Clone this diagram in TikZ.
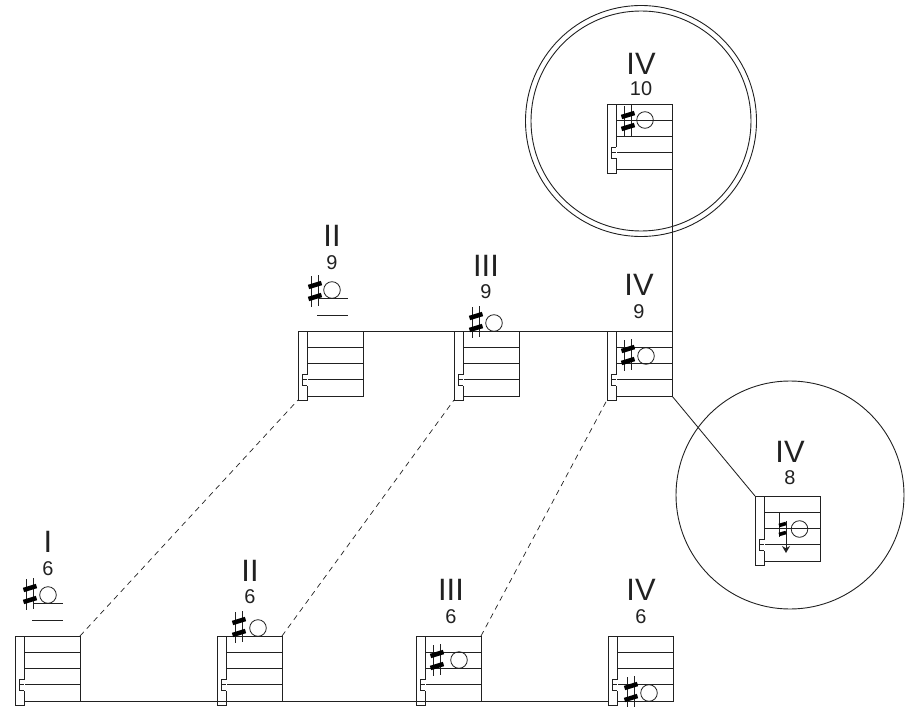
\documentclass[tikz,border=0pt]{standalone}
\usepackage{fontspec}
\setmainfont{Liberation Sans}
\usetikzlibrary{arrows.meta}
\definecolor{ink}{gray}{0.13}
\tikzset{
  x=1bp,y=-1bp,
  line/.style={draw=ink,line width=0.85bp},
  link/.style={draw=ink,line width=0.85bp},
  dash link/.style={draw=ink,line width=0.7bp,dash pattern=on 5.5bp off 4.5bp},
  staffbox/.style={rectangle,draw=ink,line width=0.85bp,inner sep=0,outer sep=0,minimum width=56bp,minimum height=65bp,anchor=north west},
  barbox/.style={rectangle,draw=ink,line width=0.85bp,inner sep=0,outer sep=0,minimum width=9bp,minimum height=69bp,anchor=north west},
  roman/.style={font=\fontsize{31}{31}\selectfont,inner sep=0,text=ink},
  numeral/.style={font=\fontsize{20}{20}\selectfont,inner sep=0,text=ink},
  ring/.style={draw=ink,line width=0.9bp},
  note/.style={draw=ink,line width=0.8bp},
}
% name, x of left edge, y of top
\newcommand{\staffat}[3]{%
  \node[barbox] (#1b) at (#2,#3) {};
  \node[staffbox] (#1) at (#2+9,#3) {};
  \foreach \k in {1,2,3}{\draw[line] (#2+9,#3+16.25*\k) -- (#2+65,#3+16.25*\k);}
  % notch in the bar
  \fill[white] (#2+4.2,#3+43.5) rectangle (#2+9.5,#3+54.5);
  \draw[line] (#2+9,#3+43.5) -- (#2+4.2,#3+43.5) -- (#2+4.2,#3+54.5) -- (#2+9,#3+54.5);
  \draw[line] (#2+4.2,#3+48.75) -- (#2+9,#3+48.75);
}
\newcommand{\sharpat}[2]{%
  \draw[draw=ink,line width=0.9bp] (#1-3.6,#2-15) -- (#1-3.6,#2+16);
  \draw[draw=ink,line width=0.9bp] (#1+3.6,#2-16) -- (#1+3.6,#2+15);
  \draw[draw=black,line width=4.5bp] (#1-6.5,#2-4) -- (#1+6.5,#2-8);
  \draw[draw=black,line width=4.5bp] (#1-6.5,#2+8) -- (#1+6.5,#2+4);
}
\newcommand{\noteat}[2]{\draw[note] (#1,#2) circle (8.3bp);}
\begin{document}
\begin{tikzpicture}
\useasboundingbox (0,0) rectangle (914,707);
% circles
\draw[ring] (641,121) circle (115.5bp);
\draw[ring] (641,121) circle (110bp);
\draw[ring] (790,495) circle (114bp);
% staves
\staffat{sa}{15}{636}
\staffat{sb}{217}{636}
\staffat{sc}{416}{636}
\staffat{sd}{608}{636}
\staffat{se}{298}{331}
\staffat{sf}{454}{331}
\staffat{sg}{607}{331}
\staffat{sh}{607}{104}
\staffat{si}{755}{496}
% connectors
\draw[link] (sa.south east) -- (sdb.south west |- sa.south east);
\draw[link] (se.north east) -- (sgb.north west);
\draw[link] (sh.north east) -- (sg.south east);
\draw[link] (sg.south east) -- (sib.north west);
\draw[dash link] (sa.north east) -- (seb.south west);
\draw[dash link] (sb.north east) -- (sfb.south west);
\draw[dash link] (sc.north east) -- (sgb.south west);
% labels
\node[roman] (la) at (48,542) {I};
\node[numeral] (na) at (48,569) {6};
\node[roman] (lb) at (250,571) {II};
\node[numeral] (nb) at (250,597) {6};
\node[roman] (lc) at (451,590) {III};
\node[numeral] (nc) at (451,617) {6};
\node[roman] (ld) at (641,590) {IV};
\node[numeral] (nd) at (641,617) {6};
\node[roman] (le) at (332,236) {II};
\node[numeral] (ne) at (332,263) {9};
\node[roman] (lf) at (486,266) {III};
\node[numeral] (nf) at (486,292) {9};
\node[roman] (lg) at (639,285) {IV};
\node[numeral] (ng) at (639,312) {9};
\node[roman] (lh) at (641,64) {IV};
\node[numeral] (nh) at (641,89) {10};
\node[roman] (li) at (790,452) {IV};
\node[numeral] (ni) at (790,478) {8};
% notes
\sharpat{30}{594}\noteat{48}{595}
\draw[line] (33,603) -- (63,603);
\draw[line] (32,620) -- (63,620);
\sharpat{315}{291}\noteat{332}{290}
\draw[line] (318,298) -- (348,298);
\draw[line] (317,315) -- (348,315);
\sharpat{476}{322}\noteat{494}{323}
\sharpat{628}{355}\noteat{646}{356}
\sharpat{239}{627}\noteat{258}{628}
\sharpat{437}{660}\noteat{459}{660}
\sharpat{631}{692}\noteat{649}{693}
\sharpat{628}{121}\noteat{645}{120}
% natural with arrow
\noteat{799.5}{529}
\draw[draw=ink,line width=0.9bp] (779,512) -- (779,537);
\draw[draw=ink,line width=0.9bp,-{Stealth[length=7bp,width=8bp]}] (786,521) -- (786,553);
\draw[draw=black,line width=3.6bp] (779,525.5) -- (786,523.5);
\draw[draw=black,line width=3.6bp] (779,534.5) -- (786,532.5);
\end{tikzpicture}
\end{document}
